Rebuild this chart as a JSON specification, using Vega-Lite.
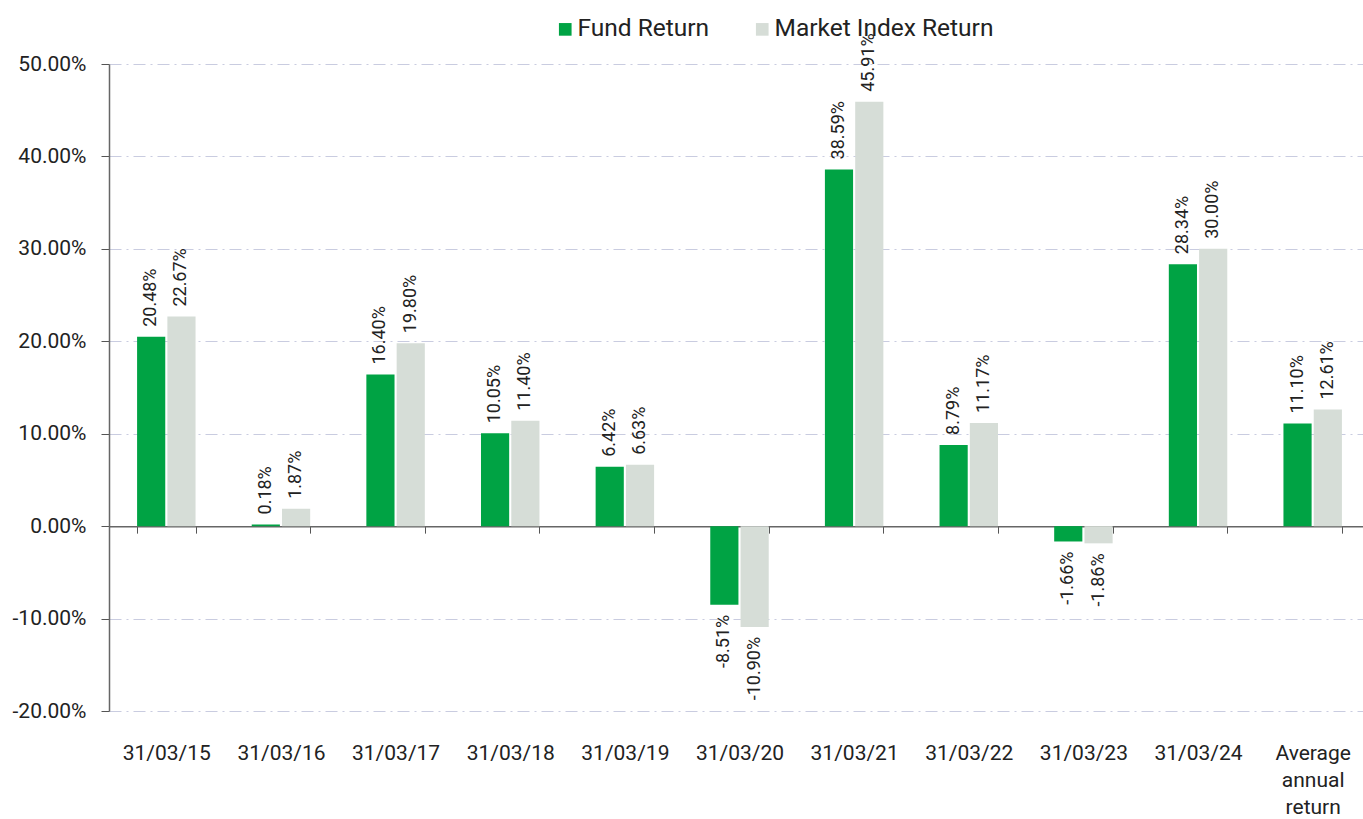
{
  "$schema": "https://vega.github.io/schema/vega-lite/v6.json",
  "width": 1261,
  "height": 647,
  "autosize": {"type": "none"},
  "padding": {"left": 109, "top": 64, "right": 0, "bottom": 108},
  "background": "white",
  "config": {
    "font": "Roboto",
    "view": {"stroke": null},
    "axis": {"labelFont": "Roboto", "labelColor": "#222222"},
    "locale": {
      "number": {
        "decimal": ".",
        "thousands": ",",
        "grouping": [3],
        "currency": ["$", ""],
        "minus": "-"
      }
    }
  },
  "data": {
    "values": [
      {"date": "31/03/15", "series": "Fund Return", "value": 0.2048},
      {"date": "31/03/15", "series": "Market Index Return", "value": 0.2267},
      {"date": "31/03/16", "series": "Fund Return", "value": 0.0018},
      {"date": "31/03/16", "series": "Market Index Return", "value": 0.0187},
      {"date": "31/03/17", "series": "Fund Return", "value": 0.1640},
      {"date": "31/03/17", "series": "Market Index Return", "value": 0.1980},
      {"date": "31/03/18", "series": "Fund Return", "value": 0.1005},
      {"date": "31/03/18", "series": "Market Index Return", "value": 0.1140},
      {"date": "31/03/19", "series": "Fund Return", "value": 0.0642},
      {"date": "31/03/19", "series": "Market Index Return", "value": 0.0663},
      {"date": "31/03/20", "series": "Fund Return", "value": -0.0851},
      {"date": "31/03/20", "series": "Market Index Return", "value": -0.1090},
      {"date": "31/03/21", "series": "Fund Return", "value": 0.3859},
      {"date": "31/03/21", "series": "Market Index Return", "value": 0.4591},
      {"date": "31/03/22", "series": "Fund Return", "value": 0.0879},
      {"date": "31/03/22", "series": "Market Index Return", "value": 0.1117},
      {"date": "31/03/23", "series": "Fund Return", "value": -0.0166},
      {"date": "31/03/23", "series": "Market Index Return", "value": -0.0186},
      {"date": "31/03/24", "series": "Fund Return", "value": 0.2834},
      {"date": "31/03/24", "series": "Market Index Return", "value": 0.3000},
      {"date": "Average annual return", "series": "Fund Return", "value": 0.1110},
      {"date": "Average annual return", "series": "Market Index Return", "value": 0.1261}
    ]
  },
  "encoding": {
    "x": {
      "field": "date",
      "type": "nominal",
      "sort": null,
      "scale": {"paddingInner": 0.49, "paddingOuter": 0.245},
      "axis": {
        "title": null,
        "orient": "bottom",
        "offset": -184.86,
        "labelAngle": 0,
        "labelFontSize": 21,
        "labelBaseline": "top",
        "labelPadding": 209,
        "labelLineHeight": 27,
        "labelExpr": "datum.value == 'Average annual return' ? ['Average', 'annual', 'return'] : datum.value",
        "tickBand": "extent",
        "tickSize": 7,
        "tickColor": "#555555",
        "domainColor": "#666666",
        "domainWidth": 1.5,
        "grid": false
      }
    },
    "xOffset": {
      "field": "series",
      "type": "nominal",
      "scale": {"paddingInner": 0.07, "paddingOuter": 0}
    },
    "y": {
      "field": "value",
      "type": "quantitative",
      "scale": {"domain": [-0.2, 0.5], "nice": false, "zero": false},
      "axis": {
        "title": null,
        "values": [-0.2, -0.1, 0, 0.1, 0.2, 0.3, 0.4, 0.5],
        "format": ".2%",
        "labelFontSize": 21,
        "labelPadding": 15,
        "tickSize": 8,
        "tickColor": "#555555",
        "domainColor": "#666666",
        "domainWidth": 1.5,
        "grid": true,
        "gridColor": "#c9cce0",
        "gridWidth": 1.2,
        "gridDash": [12, 5, 2, 5]
      }
    }
  },
  "layer": [
    {
      "mark": {"type": "bar"},
      "encoding": {
        "color": {
          "field": "series",
          "type": "nominal",
          "scale": {
            "domain": ["Fund Return", "Market Index Return"],
            "range": ["#00a344", "#d6ddd7"]
          },
          "legend": {
            "title": null,
            "orient": "none",
            "direction": "horizontal",
            "legendX": 444,
            "legendY": -47,
            "symbolType": "square",
            "symbolSize": 160,
            "symbolStrokeWidth": 0,
            "labelFontSize": 24.5,
            "labelLimit": 500,
            "labelFont": "Roboto",
            "labelColor": "#222222",
            "columnPadding": 40,
            "labelOffset": 0
          }
        }
      }
    },
    {
      "transform": [{"filter": "datum.value >= 0"}],
      "mark": {"type": "text", "angle": 270, "align": "left", "baseline": "middle", "dx": 10, "fontSize": 18, "color": "#222222"},
      "encoding": {"text": {"field": "value", "type": "quantitative", "format": ".2%"}}
    },
    {
      "transform": [{"filter": "datum.value < 0"}],
      "mark": {"type": "text", "angle": 270, "align": "right", "baseline": "middle", "dx": -10, "fontSize": 18, "color": "#222222"},
      "encoding": {"text": {"field": "value", "type": "quantitative", "format": ".2%"}}
    }
  ]
}
